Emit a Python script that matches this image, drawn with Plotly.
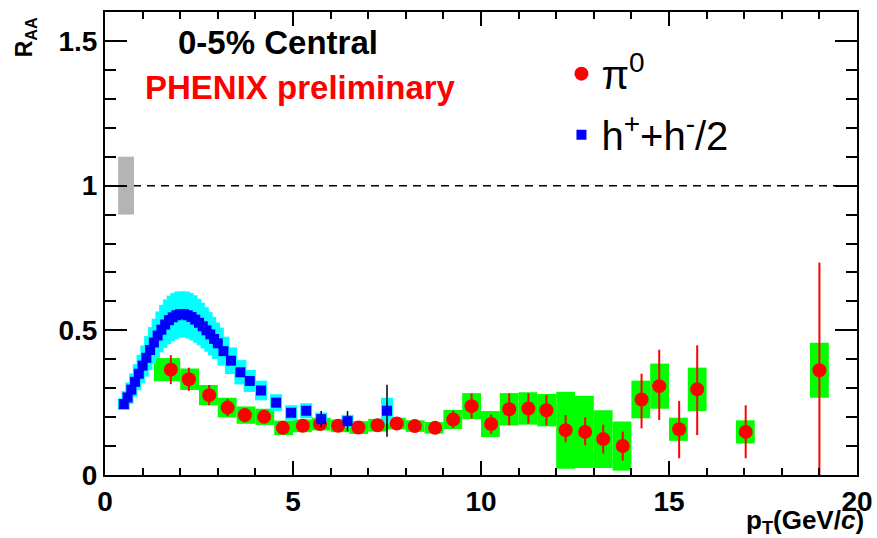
import plotly.graph_objects as go

# ---------------- data ----------------
# normalisation uncertainty box at R_AA = 1
norm_pt = [0.56]
norm_width = [0.42]
norm_level = [1.0]
norm_unc = [0.1]
ref_level = [1.0]

# pi0 R_AA (0-5% central)
pi0_pt = [1.75, 2.23, 2.77, 3.26, 3.72, 4.23, 4.73, 5.26, 5.72, 6.2, 6.74, 7.25, 7.76,
          8.24, 8.78, 9.26, 9.75, 10.27, 10.75, 11.26, 11.74, 12.25, 12.77, 13.25, 13.77,
          14.27, 14.74, 15.27, 15.75, 17.04, 19.0]
pi0_raa = [0.364, 0.331, 0.276, 0.233, 0.207, 0.201, 0.163, 0.17, 0.176, 0.17, 0.164, 0.172, 0.178,
           0.169, 0.163, 0.192, 0.238, 0.176, 0.227, 0.23, 0.224, 0.155, 0.149, 0.124, 0.1,
           0.261, 0.307, 0.158, 0.296, 0.149, 0.362]
pi0_err_up = [0.05, 0.04, 0.035, 0.03, 0.025, 0.02, 0.02, 0.02, 0.02, 0.02, 0.02, 0.02, 0.02,
              0.02, 0.022, 0.03, 0.043, 0.033, 0.055, 0.052, 0.052, 0.052, 0.05, 0.05, 0.05,
              0.089, 0.126, 0.098, 0.152, 0.092, 0.372]
pi0_err_dn = [0.05, 0.04, 0.035, 0.03, 0.025, 0.02, 0.02, 0.02, 0.02, 0.02, 0.02, 0.02, 0.02,
              0.02, 0.022, 0.03, 0.043, 0.033, 0.055, 0.052, 0.052, 0.042, 0.046, 0.05, 0.05,
              0.1, 0.117, 0.1, 0.158, 0.091, 0.372]
pi0_sys = [0.04, 0.037, 0.035, 0.034, 0.03, 0.028, 0.025, 0.022, 0.022, 0.022, 0.022, 0.022, 0.02,
           0.02, 0.02, 0.033, 0.045, 0.045, 0.056, 0.056, 0.056, 0.133, 0.125, 0.1, 0.085,
           0.065, 0.078, 0.04, 0.075, 0.04, 0.095]
pi0_bin_lo = [1.3, 2.0, 2.5, 3.0, 3.5, 4.0, 4.5, 5.0, 5.5, 6.0, 6.5, 7.0, 7.5,
              8.0, 8.5, 9.0, 9.5, 10.0, 10.5, 11.0, 11.5, 12.0, 12.5, 13.0, 13.5,
              14.0, 14.5, 15.0, 15.5, 16.78, 18.75]
pi0_bin_hi = [2.0, 2.5, 3.0, 3.5, 4.0, 4.5, 5.0, 5.5, 6.0, 6.5, 7.0, 7.5, 8.0,
              8.5, 9.0, 9.5, 10.0, 10.5, 11.0, 11.5, 12.0, 12.5, 13.0, 13.5, 14.0,
              14.5, 15.0, 15.5, 16.0, 17.28, 19.25]

# charged hadrons (h+ + h-)/2
h_pt = [0.5, 0.6, 0.7, 0.8, 0.9, 1.0, 1.1, 1.2, 1.3, 1.4, 1.5, 1.6, 1.7, 1.8, 1.9,
        2.0, 2.1, 2.2, 2.3, 2.4, 2.5, 2.6, 2.7, 2.8, 2.9, 3.0, 3.15, 3.35, 3.6, 3.85,
        4.15, 4.55, 4.95, 5.35, 5.75, 6.45, 7.5]
h_raa = [0.245, 0.268, 0.295, 0.322, 0.35, 0.378, 0.405, 0.432, 0.458, 0.482, 0.502, 0.52, 0.535, 0.545, 0.552,
         0.556, 0.556, 0.552, 0.546, 0.537, 0.526, 0.514, 0.5, 0.486, 0.47, 0.455, 0.428, 0.395, 0.355, 0.325,
         0.292, 0.25, 0.215, 0.222, 0.193, 0.186, 0.222]
h_sys = [0.02, 0.022, 0.025, 0.029, 0.033, 0.038, 0.043, 0.048, 0.053, 0.058, 0.063, 0.068, 0.072, 0.075, 0.077,
         0.078, 0.078, 0.077, 0.075, 0.072, 0.069, 0.066, 0.063, 0.06, 0.057, 0.054, 0.05, 0.046, 0.042, 0.038,
         0.034, 0.029, 0.026, 0.026, 0.023, 0.022, 0.045]
h_err = [0, 0, 0, 0, 0, 0, 0, 0, 0, 0, 0, 0, 0, 0, 0,
         0, 0, 0, 0, 0, 0, 0, 0, 0, 0, 0, 0, 0, 0, 0,
         0, 0, 0, 0, 0.028, 0.035, 0.09]

x_ticks = [0, 5, 10, 15, 20]
y_ticks = [0, 0.5, 1, 1.5]

FONT = "Liberation Sans"

fig = go.Figure()

# normalisation box
fig.add_trace(go.Bar(
    x=norm_pt, y=[2 * u for u in norm_unc],
    base=[l - u for l, u in zip(norm_level, norm_unc)],
    width=norm_width, marker=dict(color="#b4b4b4", line=dict(width=0)),
    showlegend=False, hoverinfo="skip"))

# pi0 systematic boxes
fig.add_trace(go.Bar(
    x=[(lo + hi) / 2 for lo, hi in zip(pi0_bin_lo, pi0_bin_hi)],
    y=[2 * s for s in pi0_sys],
    base=[r - s for r, s in zip(pi0_raa, pi0_sys)],
    width=[hi - lo for lo, hi in zip(pi0_bin_lo, pi0_bin_hi)],
    marker=dict(color="#00ff00", line=dict(width=0)),
    showlegend=False, hoverinfo="skip"))

# hadron systematic boxes
fig.add_trace(go.Bar(
    x=h_pt, y=[2 * s for s in h_sys],
    base=[r - s for r, s in zip(h_raa, h_sys)],
    width=0.32, marker=dict(color="#00ffff", line=dict(width=0)),
    showlegend=False, hoverinfo="skip"))

# pi0 points
fig.add_trace(go.Scatter(
    x=pi0_pt, y=pi0_raa, mode="markers", name="π<sup>0</sup>", legendgroup="a",
    marker=dict(symbol="circle", size=14, color="#ff0000"),
    error_y=dict(type="data", symmetric=False, array=pi0_err_up, arrayminus=pi0_err_dn,
                 color="#ff0000", thickness=2, width=0)))

# hadron points
fig.add_trace(go.Scatter(
    x=h_pt, y=h_raa, mode="markers", name="h<sup>+</sup>+h<sup>-</sup>/2", legendgroup="b",
    marker=dict(symbol="square", size=10, color="#0000ff"),
    error_y=dict(type="data", array=h_err, color="black", thickness=1.5, width=0)))

# reference line at 1
fig.add_shape(type="line", xref="x", yref="y", x0=x_ticks[0], x1=x_ticks[-1],
              y0=ref_level[0], y1=ref_level[0], layer="below",
              line=dict(color="black", width=1.5, dash="8px,6px"))

axis_common = dict(
    showline=True, linewidth=2, linecolor="black", mirror="allticks",
    ticks="inside", tickwidth=2, tickcolor="black",
    showgrid=False, zeroline=False, automargin=False,
    tickfont=dict(family=FONT, size=28, color="black", weight="bold"),
)

fig.update_xaxes(range=[0, 20], tickvals=x_ticks, ticklen=14,
                 minor=dict(dtick=1, tick0=0, ticklen=7, tickwidth=2, tickcolor="black",
                            ticks="inside", showgrid=False),
                 **axis_common)
fig.update_yaxes(range=[0, 1.6], tickvals=y_ticks, ticklen=22,
                 minor=dict(dtick=0.1, tick0=0, ticklen=11, tickwidth=2, tickcolor="black",
                            ticks="inside", showgrid=False),
                 **axis_common)

fig.add_annotation(xref="paper", yref="paper", x=-0.106, y=0.946, textangle=-90,
                   text="<b>R<sub>AA</sub></b>", showarrow=False,
                   xanchor="center", yanchor="middle",
                   font=dict(family=FONT, size=23, color="black"))
fig.add_annotation(xref="paper", yref="paper", x=1.012, y=-0.101,
                   text="<b>p<sub>T</sub>(GeV/<i>c</i>)</b>", showarrow=False,
                   xanchor="right", yanchor="middle",
                   font=dict(family=FONT, size=26, color="black"))
fig.add_annotation(xref="paper", yref="paper", x=0.095, y=0.935,
                   text="<b>0-5% Central</b>", showarrow=False,
                   xanchor="left", yanchor="middle",
                   font=dict(family=FONT, size=33, color="black"))
fig.add_annotation(xref="paper", yref="paper", x=0.051, y=0.838,
                   text="<b>PHENIX preliminary</b>", showarrow=False,
                   xanchor="left", yanchor="middle",
                   font=dict(family=FONT, size=33, color="#ff0000"))

fig.update_layout(
    width=877, height=538,
    margin=dict(l=105, r=20, t=12, b=63, pad=0, autoexpand=False),
    plot_bgcolor="white", paper_bgcolor="white",
    barmode="overlay",
    legend=dict(x=0.607, y=0.937, xanchor="left", yanchor="top",
                bgcolor="rgba(0,0,0,0)", borderwidth=0,
                traceorder="grouped", tracegroupgap=6,
                font=dict(family=FONT, size=40, color="black")),
)

fig.write_html("out.html")
